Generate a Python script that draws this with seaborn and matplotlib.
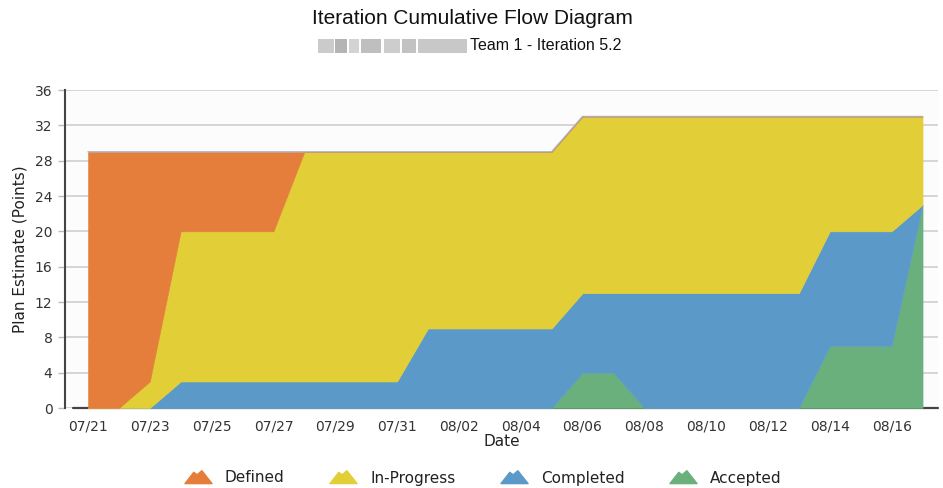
import matplotlib.pyplot as plt
import numpy as np
import pandas as pd
import seaborn as sns
from matplotlib.lines import Line2D
from matplotlib.patches import Rectangle
from matplotlib.path import Path

# one value per day, 07/21 .. 08/17
dates = pd.date_range("2015-07-21", "2015-08-17", freq="D")
defined = [29, 29, 26, 9, 9, 9, 9, 0, 0, 0, 0, 0, 0, 0,
           0, 0, 0, 0, 0, 0, 0, 0, 0, 0, 0, 0, 0, 0]
in_progress = [0, 0, 3, 17, 17, 17, 17, 26, 26, 26, 26, 20, 20, 20,
               20, 20, 20, 20, 20, 20, 20, 20, 20, 20, 13, 13, 13, 10]
completed = [0, 0, 0, 3, 3, 3, 3, 3, 3, 3, 3, 9, 9, 9,
             9, 9, 9, 9, 13, 13, 13, 13, 13, 13, 13, 13, 13, 0]
accepted = [0, 0, 0, 0, 0, 0, 0, 0, 0, 0, 0, 0, 0, 0,
            0, 0, 4, 4, 0, 0, 0, 0, 0, 0, 7, 7, 7, 23]

series_names = ["Defined", "In-Progress", "Completed", "Accepted"]
colors = {"Defined": "#E47E3A", "In-Progress": "#E2CE36",
          "Completed": "#5B9AC8", "Accepted": "#6AB07C"}
y_ticks = np.arange(0, 37, 4)

sns.set_style("white")
plt.rcParams["font.family"] = ["DejaVu Sans"]

days = np.arange(len(dates))
total = np.array(defined) + np.array(in_progress) + np.array(completed) + np.array(accepted)

fig = plt.figure(figsize=(9.43, 4.88), dpi=100)
ax = fig.add_axes([65 / 943, 1 - 408 / 488, 873 / 943, 318 / 488])
ax.set_facecolor("#fcfcfc")

# bottom axis line sits under the areas
ax.plot([-0.5, 27.5], [0, 0], color="#444444", lw=1.6, zorder=1, clip_on=False)

layers = [accepted, completed, in_progress, defined]
layer_names = series_names[::-1]
ax.stackplot(days, *layers, colors=[colors[n] for n in layer_names],
             edgecolor="face", linewidth=0.4, zorder=2)
sns.lineplot(x=days, y=total, ax=ax, color="#aab0c0", lw=1.0, zorder=3)

ax.set_xlim(-0.744, 27.49)
ax.set_ylim(0, 36)
ax.set_yticks(y_ticks)
ax.yaxis.grid(True, color="#d2d2d2", lw=1.3)
ax.set_axisbelow(True)

ax.set_xticks(days[::2])
ax.set_xticklabels(dates[::2].strftime("%m/%d"))
ax.set_xticks(np.arange(-0.5, 28, 1), minor=True)
ax.tick_params(axis="x", which="major", length=0, pad=8, labelsize=10, labelcolor="#333333")
ax.tick_params(axis="x", which="minor", length=4, width=1, color="#aaaaaa", direction="out")
ax.tick_params(axis="y", length=5, width=1, color="#bbbbbb", labelsize=10,
               labelcolor="#333333", pad=4, left=True)

for side in ["top", "right", "bottom"]:
    ax.spines[side].set_visible(False)
ax.spines["left"].set_color("#444444")
ax.spines["left"].set_linewidth(1.5)

ax.set_xlabel("Date", fontsize=11, color="#222222", labelpad=1)
ax.set_ylabel("Plan Estimate (Points)", fontsize=11, color="#222222", labelpad=5)

fig.text(472 / 943, 1 - 18 / 488, "Iteration Cumulative Flow Diagram", ha="center", va="center",
         fontsize=15, family="Liberation Sans", color="#111111")
fig.text(470 / 943, 1 - 46 / 488, "Team 1 - Iteration 5.2", ha="left", va="center",
         fontsize=11.5, family="Liberation Sans", color="#111111")

# blurred (redacted) name in front of the subtitle
for bx, bw, bc in [(318, 16, "#cbcbcb"), (335, 12, "#b4b4b4"), (349, 10, "#d3d3d3"),
                   (361, 20, "#bfbfbf"), (384, 16, "#cdcdcd"), (402, 14, "#c2c2c2"),
                   (418, 49, "#c8c8c8")]:
    fig.add_artist(Rectangle((bx / 943, 1 - 53 / 488), bw / 943, 14 / 488,
                             transform=fig.transFigure, color=bc, lw=0))

mountain = Path([(-1.0, -0.45), (-0.35, 0.38), (-0.1, 0.2), (0.25, 0.5),
                 (1.0, -0.45), (-1.0, -0.45)],
                [Path.MOVETO, Path.LINETO, Path.LINETO, Path.LINETO, Path.LINETO, Path.CLOSEPOLY])
handles = [Line2D([], [], linestyle="none", marker=mountain, markersize=19.5,
                  markerfacecolor=colors[n], markeredgecolor=colors[n], label=n)
           for n in series_names]
fig.legend(handles=handles, loc="center", bbox_to_anchor=(483 / 943, 1 - 478 / 488),
           ncol=4, frameon=False, fontsize=11, handlelength=1.8, handletextpad=0.85,
           columnspacing=2.95, labelcolor="#222222")

fig.savefig("out.png", dpi=100)
